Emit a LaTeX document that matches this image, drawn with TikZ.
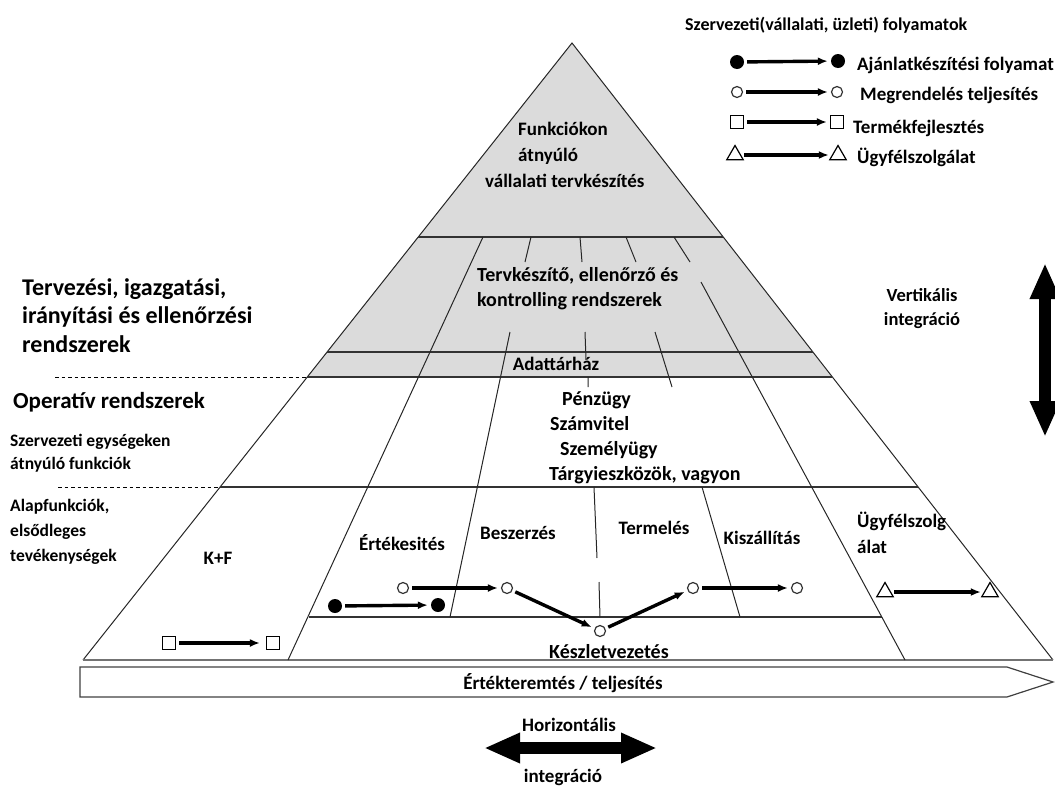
\documentclass[tikz,border=0pt]{standalone}
\usepackage{fontspec}
\setmainfont{Carlito}
\usepackage{tikz}
\usetikzlibrary{arrows.meta, shapes.geometric, positioning, calc}

\begin{document}
\begin{tikzpicture}[
    x=1pt, y=-1pt,
    txt/.style={inner sep=0pt, align=left, font=\bfseries\fontsize{19}{26}\selectfont},
    txtsm/.style={txt, font=\bfseries\fontsize{18.5}{24}\selectfont},
    txtmid/.style={txt, font=\bfseries\fontsize{20}{25}\selectfont},
    txtbig/.style={txt, font=\bfseries\fontsize{24}{28.5}\selectfont},
    edge/.style={line width=1pt, color=black!85},
    level/.style={line width=1.8pt, color=black!80},
    dashsep/.style={line width=1pt, dashed, dash pattern=on 3.5pt off 3pt},
    dotfull/.style={circle, fill=black, inner sep=0pt, minimum size=14pt},
    dotopen/.style={circle, draw=black!80, line width=1.2pt, fill=white, inner sep=0pt, minimum size=11pt},
    sqbox/.style={rectangle, draw, line width=1.2pt, fill=white, inner sep=0pt, minimum size=13pt},
    tribox/.style={regular polygon, regular polygon sides=3, draw, line width=1.2pt, inner sep=0pt, minimum size=19pt},
    flow/.style={-{Latex[length=10pt, width=8pt]}, line width=3.4pt, shorten <=3pt, shorten >=3pt},
    bigarrow/.style={{Triangle[length=36pt, width=28pt]}-{Triangle[length=36pt, width=28pt]}, line width=12pt}
    ]
    \useasboundingbox (0,0) rectangle (1055,785);

    % Pyramid
    \coordinate (apex) at (572,43);
    \coordinate (bl) at (83,660);
    \coordinate (br) at (1053,660);
    \fill[black!14] (apex) -- (307,377) -- (832,377) -- cycle;
    \draw[edge] (bl) -- (apex) -- (br);
    \draw[line width=2pt, black!55] (bl) -- (br);

    % Levels
    \draw[level, line width=1.4pt] (418,237) -- (723,237);
    \draw[level] (327,352) -- (813,352);
    \draw[level] (307,377) -- (832,377);
    \draw[level, line width=1.4pt] (220,487) -- (918,487);
    \draw[level, line width=1.4pt] (309,617) -- (882,617);
    \draw[dashsep] (55,377) -- (307,377);
    \draw[dashsep] (58,487) -- (220,487);

    % Columns
    \draw[edge] (483,237) -- (288,660);
    \draw[edge] (531,237) -- (525,262) (510,332) -- (450,617);
    \draw[edge] (580,237) -- (582,262) (585,332) -- (586,360) (588,377) -- (588,387)
                (594,487) -- (597,558) (599,582) -- (600,617);
    \draw[edge] (626,237) -- (636,262) (655,332) -- (672,387) (702,487) -- (740,617);
    \draw[edge] (674,237) -- (690,262) (701,282) -- (905,660);

    % Value chain bar
    \draw[line width=1.2pt, black!75] (80,667) -- (1007,667) -- (1053,682) -- (1007,697) -- (80,697) -- cycle;
    \node[txt] (value) at (563,683) {Értékteremtés / teljesítés};

    % Legend
    \node[txt, font=\bfseries\fontsize{18}{20}\selectfont, anchor=west] (legtitle) at (685,25) {Szervezeti(vállalati, üzleti) folyamatok};
    \node[dotfull] (lg1a) at (737,62) {};
    \node[dotfull] (lg1b) at (838,61) {};
    \node[dotopen] (lg2a) at (737,92) {};
    \node[dotopen] (lg2b) at (837,92) {};
    \node[sqbox] (lg3a) at (737,122) {};
    \node[sqbox] (lg3b) at (837,122) {};
    \node[tribox] (lg4a) at (735,155) {};
    \node[tribox] (lg4b) at (838,155) {};
    \draw[flow] (lg1a) -- (lg1b);
    \draw[flow] (lg2a) -- (lg2b);
    \draw[flow] (lg3a) -- (lg3b);
    \draw[flow] (lg4a) -- (lg4b);
    \node[txt, anchor=west] (lg1t) at (857,65) {Ajánlatkészítési folyamat};
    \node[txt, anchor=west] (lg2t) at (860,95) {Megrendelés teljesítés};
    \node[txt, anchor=west] (lg3t) at (853,128) {Termékfejlesztés};
    \node[txt, anchor=west] (lg4t) at (857,157) {Ügyfélszolgálat};

    % Pyramid texts
    \node[txt, anchor=north west] (func) at (485,122) {\hspace*{33pt}Funkciókon\\\hspace*{33pt}átnyúló\\vállalati tervkészítés};
    \node[txtmid, anchor=north west] (ctrl) at (477,267) {Tervkészítő, ellenőrző és\\kontrolling rendszerek};
    \node[txt] (dwh) at (556,364) {Adattárház};
    \node[txtmid, anchor=north west] (ops) at (549,391) {\hspace*{13pt}Pénzügy\\\hspace*{1pt}Számvitel\\\hspace*{11pt}Személyügy\\Tárgyieszközök, vagyon};
    \node[txt] (kf) at (218,558) {K+F};
    \node[txt] (sales) at (402,543) {Értékesités};
    \node[txt] (purch) at (518,533) {Beszerzés};
    \node[txt] (prod) at (654,528) {Termelés};
    \node[txt] (ship) at (762,538) {Kiszállítás};
    \node[txt, anchor=north west] (serv) at (857,512) {Ügyfélszolg\\álat};
    \node[txtmid] (stock) at (609,652) {Készletvezetés};

    % Left texts
    \node[txtbig, anchor=north west] (plan) at (22,278) {Tervezési, igazgatási,\\irányítási és ellenőrzési\\rendszerek};
    \node[txtbig, font=\bfseries\fontsize{23}{28}\selectfont, anchor=west] (oper) at (13,402) {Operatív rendszerek};
    \node[txt, font=\bfseries\fontsize{17.5}{23}\selectfont, anchor=north west] (cross) at (10,434) {Szervezeti egységeken\\átnyúló funkciók};
    \node[txt, font=\bfseries\fontsize{17.5}{25}\selectfont, anchor=north west] (basic) at (10,499) {Alapfunkciók,\\elsődleges\\tevékenységek};

    % Process flows
    \node[sqbox] (kf1) at (169,643) {};
    \node[sqbox] (kf2) at (273,643) {};
    \node[dotfull] (of1) at (335,606) {};
    \node[dotfull] (of2) at (438,605) {};
    \node[dotopen] (or1) at (403,588) {};
    \node[dotopen] (or2) at (507,588) {};
    \node[dotopen] (or3) at (600,631) {};
    \node[dotopen] (or4) at (693,588) {};
    \node[dotopen] (or5) at (797,588) {};
    \node[tribox] (cs1) at (885,592) {};
    \node[tribox] (cs2) at (990,592) {};
    \draw[flow, shorten >=6pt] (kf1) -- (kf2);
    \draw[flow] (of1) -- (of2);
    \draw[flow] (or1) -- (or2);
    \draw[flow] (or2) -- (or3);
    \draw[flow] (or3) -- (or4);
    \draw[flow] (or4) -- (or5);
    \draw[flow] (cs1) -- (cs2);

    % Integration arrows
    \coordinate (vtop) at (1045,263);
    \coordinate (vbot) at (1045,437);
    \coordinate (hleft) at (484,748);
    \coordinate (hright) at (657,748);
    \draw[bigarrow] (vtop) -- (vbot);
    \draw[bigarrow] (hleft) -- (hright);
    \node[txtsm, align=center] (vint) at (922,309) {Vertikális\\integráció};
    \node[txt] (hint1) at (569,725) {Horizontális};
    \node[txt] (hint2) at (563,777) {integráció};
\end{tikzpicture}
\end{document}
